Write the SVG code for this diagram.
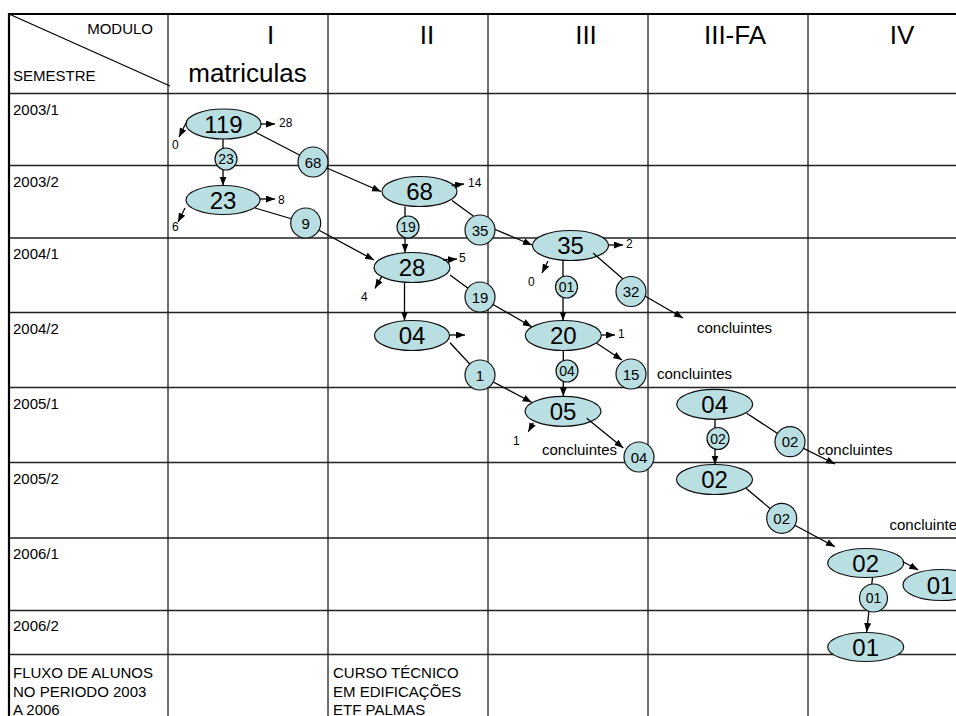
<svg xmlns="http://www.w3.org/2000/svg" width="956" height="716" viewBox="0 0 956 716">
<defs>
<style>
text{font-family:"Liberation Sans",Arial,sans-serif;fill:#000}
.grid{stroke:#222;stroke-width:1.3;fill:none}
.outer{stroke:#000;stroke-width:2.2;fill:none}
.ell{fill:#b9dfe2;stroke:#111;stroke-width:1.2}
.big{font-size:24px;text-anchor:middle}
.mid{font-size:15px;text-anchor:middle}
.smc{font-size:14px;text-anchor:middle}
.lab{font-size:15px}
.sm{font-size:12px}
.hdr{font-size:26px;text-anchor:middle}
.con{stroke:#000;stroke-width:1.3;fill:none;marker-end:url(#ah)}
.line{stroke:#000;stroke-width:1.3;fill:none}
</style>
<marker id="ah" markerUnits="userSpaceOnUse" markerWidth="10" markerHeight="8" refX="9" refY="3.5" orient="auto">
<path d="M0,0 L9,3.5 L0,7 z" fill="#000"/>
</marker>
</defs>
<rect width="956" height="716" fill="#fff"/>
<g id="table">
<path class="grid" d="M168,14V716M328,14V716M488,14V716M648,14V716M808,14V716"/>
<path class="grid" d="M9,93.5H956M9,165.5H956M9,238H956M9,312.5H956M9,387.5H956M9,462.5H956M9,538H956M9,610.5H956M9,654.5H956"/>
<path class="outer" d="M9,716V14H956"/>
<path class="line" d="M9,14L170,86"/>
<text class="lab" x="153" y="33.5" text-anchor="end">MODULO</text>
<text class="lab" x="13" y="80.5">SEMESTRE</text>
<text class="hdr" x="270.5" y="44">I</text>
<text class="hdr" x="247.5" y="82">matriculas</text>
<text class="hdr" x="427" y="44">II</text>
<text class="hdr" x="586" y="44">III</text>
<text class="hdr" x="735" y="44">III-FA</text>
<text class="hdr" x="902" y="44">IV</text>
<text class="lab" x="13" y="114.5">2003/1</text>
<text class="lab" x="13" y="186.5">2003/2</text>
<text class="lab" x="13" y="259">2004/1</text>
<text class="lab" x="13" y="333.5">2004/2</text>
<text class="lab" x="13" y="408.5">2005/1</text>
<text class="lab" x="13" y="483.5">2005/2</text>
<text class="lab" x="13" y="559">2006/1</text>
<text class="lab" x="13" y="630.5">2006/2</text>
<text class="lab" x="13" y="678">FLUXO DE ALUNOS</text>
<text class="lab" x="13" y="696.5">NO PERIODO 2003</text>
<text class="lab" x="13" y="715">A 2006</text>
<text class="lab" x="333" y="678">CURSO TÉCNICO</text>
<text class="lab" x="333" y="696.5">EM EDIFICAÇÕES</text>
<text class="lab" x="333" y="715">ETF PALMAS</text>
</g>
<g id="n119"><ellipse class="ell" cx="223.5" cy="124" rx="37.5" ry="15"/><text class="big" x="223.5" y="132.5">119</text></g>
<g id="n23"><ellipse class="ell" cx="223" cy="200" rx="37" ry="14.5"/><text class="big" x="223" y="208.5">23</text></g>
<g id="n68"><ellipse class="ell" cx="419.5" cy="191.5" rx="37.5" ry="15"/><text class="big" x="419.5" y="200">68</text></g>
<g id="n28"><ellipse class="ell" cx="412" cy="267.5" rx="38" ry="15"/><text class="big" x="412" y="276">28</text></g>
<g id="n35"><ellipse class="ell" cx="570.5" cy="245.5" rx="38" ry="15"/><text class="big" x="570.5" y="254">35</text></g>
<g id="n04a"><ellipse class="ell" cx="412" cy="335.5" rx="37.5" ry="15"/><text class="big" x="412" y="344">04</text></g>
<g id="n20"><ellipse class="ell" cx="563.3" cy="335.5" rx="38" ry="15"/><text class="big" x="563.3" y="344">20</text></g>
<g id="n05"><ellipse class="ell" cx="563" cy="411.3" rx="38" ry="15"/><text class="big" x="563" y="419.8">05</text></g>
<g id="n04b"><ellipse class="ell" cx="714.7" cy="404.3" rx="38" ry="15"/><text class="big" x="714.7" y="412.8">04</text></g>
<g id="n02a"><ellipse class="ell" cx="714.5" cy="479.5" rx="38" ry="15"/><text class="big" x="714.5" y="488">02</text></g>
<g id="n02b"><ellipse class="ell" cx="865.7" cy="563" rx="38" ry="14.5"/><text class="big" x="865.7" y="571.5">02</text></g>
<g id="n01a"><ellipse class="ell" cx="941" cy="585" rx="38" ry="15.5"/><text class="big" x="940" y="593.5">01</text></g>
<g id="n01b"><ellipse class="ell" cx="865.7" cy="647" rx="38" ry="14.5"/><text class="big" x="865.7" y="655.5">01</text></g>
<g id="connectors">
<polyline class="con" points="255,132 313,162 381,191.5"/>
<line class="con" x1="261" y1="124" x2="275" y2="124"/>
<line class="con" x1="186" y1="123" x2="179" y2="137"/>
<line class="con" x1="223" y1="139" x2="223" y2="185.5"/>
<line class="con" x1="260" y1="199" x2="275" y2="199"/>
<line class="con" x1="185" y1="208" x2="178" y2="222"/>
<polyline class="con" points="255,208 305.7,223 374,260"/>
<line class="con" x1="451.7" y1="185.5" x2="464" y2="184"/>
<line class="con" x1="405" y1="206.5" x2="405" y2="252.5"/>
<polyline class="con" points="452,200.5 487,226 532,245"/>
<line class="con" x1="608.5" y1="245" x2="623" y2="245"/>
<line class="con" x1="548" y1="261" x2="542" y2="273"/>
<line class="con" x1="563" y1="260.5" x2="563" y2="320.5"/>
<polyline class="con" points="593,253 638,292 683,318"/>
<line class="con" x1="443" y1="260" x2="457" y2="259"/>
<line class="con" x1="381.7" y1="276.7" x2="375" y2="288.3"/>
<line class="con" x1="404.5" y1="282.5" x2="404.5" y2="320.5"/>
<polyline class="con" points="450,275 480,297 531.7,326.7"/>
<line class="con" x1="449.5" y1="335" x2="465" y2="335"/>
<polyline class="con" points="450,342.7 480,375 531.7,402.3"/>
<line class="con" x1="601.5" y1="335" x2="615" y2="335"/>
<line class="con" x1="596.7" y1="343.3" x2="622" y2="360"/>
<line class="con" x1="563.3" y1="350.5" x2="563.3" y2="396.3"/>
<line class="con" x1="533.3" y1="422.7" x2="528.3" y2="431.7"/>
<line class="con" x1="586.7" y1="418.3" x2="623.3" y2="448"/>
<line class="con" x1="715" y1="419.3" x2="715" y2="464.5"/>
<polyline class="con" points="746.7,413.3 790,441.7 835,464"/>
<polyline class="con" points="746,488.3 781.7,518.3 835,546.7"/>
<line class="con" x1="903" y1="561.7" x2="918.3" y2="570"/>
<line class="con" x1="872.5" y1="577.5" x2="866.7" y2="632"/>
</g>
<g id="c68"><circle class="ell" cx="313" cy="162" r="15"/><text class="mid" x="313" y="167.5">68</text></g>
<g id="c9"><circle class="ell" cx="305.7" cy="223" r="15"/><text class="mid" x="305.7" y="228.5">9</text></g>
<g id="c35"><circle class="ell" cx="480" cy="230" r="15"/><text class="mid" x="480" y="235.5">35</text></g>
<g id="c32"><circle class="ell" cx="631" cy="291.5" r="15"/><text class="mid" x="631" y="297">32</text></g>
<g id="c19b"><circle class="ell" cx="480" cy="297" r="15"/><text class="mid" x="480" y="302.5">19</text></g>
<g id="c1"><circle class="ell" cx="480" cy="375" r="15"/><text class="mid" x="480" y="380.5">1</text></g>
<g id="c15"><circle class="ell" cx="631" cy="374" r="15"/><text class="mid" x="631" y="379.5">15</text></g>
<g id="c04c"><circle class="ell" cx="639" cy="457" r="15"/><text class="mid" x="639" y="462.5">04</text></g>
<g id="c02a"><circle class="ell" cx="790" cy="441.7" r="15"/><text class="mid" x="790" y="447.2">02</text></g>
<g id="c02b"><circle class="ell" cx="781.7" cy="518.3" r="15"/><text class="mid" x="781.7" y="523.8">02</text></g>
<g id="c23"><circle class="ell" cx="226" cy="159" r="11"/><text class="smc" x="226" y="164">23</text></g>
<g id="c19a"><circle class="ell" cx="408" cy="227" r="11"/><text class="smc" x="408" y="232">19</text></g>
<g id="c01a"><circle class="ell" cx="566.5" cy="287" r="11"/><text class="smc" x="566.5" y="292">01</text></g>
<g id="c04b"><circle class="ell" cx="567" cy="371" r="11"/><text class="smc" x="567" y="376">04</text></g>
<g id="c02c"><circle class="ell" cx="718" cy="438.5" r="11"/><text class="smc" x="718" y="443.5">02</text></g>
<g id="c01b"><circle class="ell" cx="873.5" cy="598" r="14"/><text class="smc" x="873.5" y="603">01</text></g>
<g id="labels">
<text class="sm" x="279" y="127">28</text>
<text class="sm" x="172" y="149">0</text>
<text class="sm" x="278" y="203.5">8</text>
<text class="sm" x="172" y="231">6</text>
<text class="sm" x="468" y="187">14</text>
<text class="sm" x="626" y="248">2</text>
<text class="sm" x="528" y="286">0</text>
<text class="sm" x="459" y="262">5</text>
<text class="sm" x="361" y="301">4</text>
<text class="sm" x="618" y="338">1</text>
<text class="sm" x="513" y="445">1</text>
<text class="lab" x="697" y="333">concluintes</text>
<text class="lab" x="657" y="379">concluintes</text>
<text class="lab" x="542" y="454.5">concluintes</text>
<text class="lab" x="817.5" y="454.5">concluintes</text>
<text class="lab" x="889.5" y="529.5">concluintes</text>
</g>
</svg>
